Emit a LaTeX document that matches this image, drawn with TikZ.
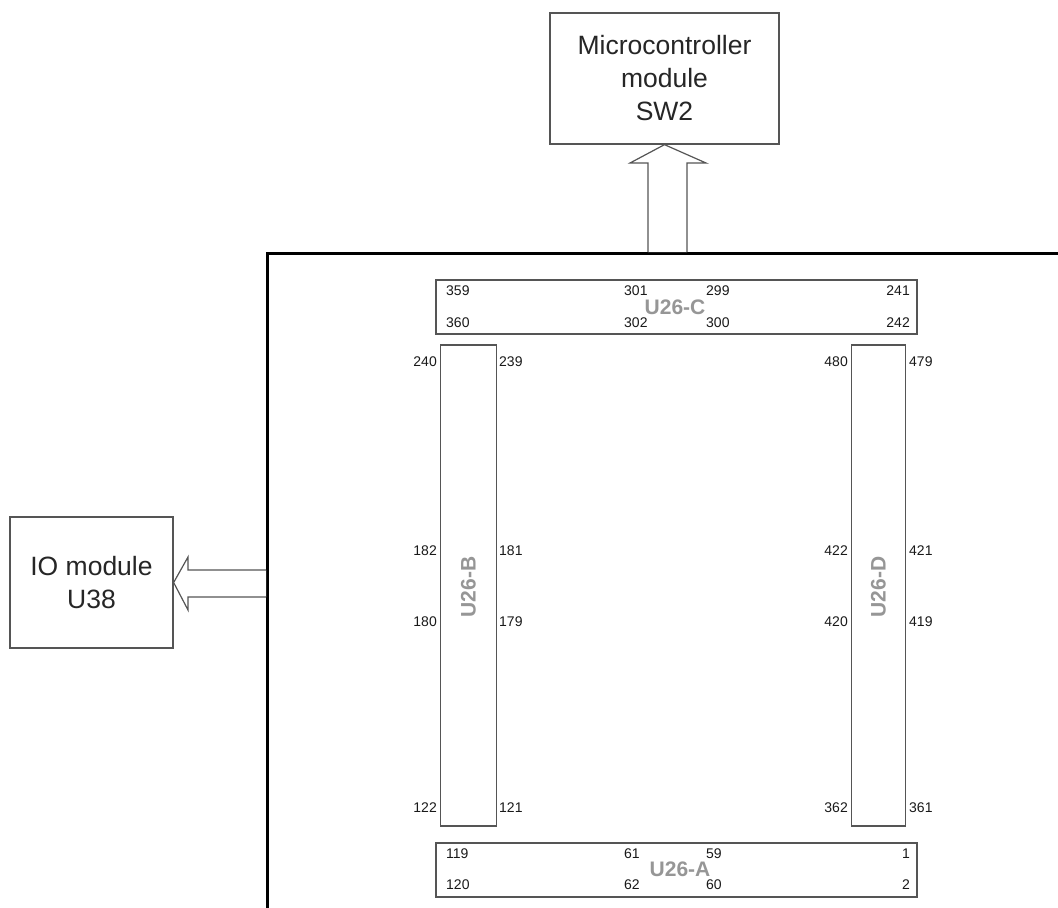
\documentclass[tikz,border=0pt]{standalone}
\usepackage{fontspec}
\setmainfont{Liberation Sans}
\usetikzlibrary{calc}
\definecolor{edge}{RGB}{85,85,85}
\definecolor{lbl}{RGB}{150,150,150}
\tikzset{
  modbox/.style={draw=edge, line width=1.3pt, fill=white, inner sep=0pt},
  modtext/.style={align=center, font=\fontsize{26.5}{33}\selectfont, text=black!85},
  conn/.style={draw=edge, line width=1.2pt, fill=white, inner sep=0pt},
  pin/.style={font=\fontsize{14}{14}\selectfont, inner sep=0pt, text=black!90},
  partlbl/.style={font=\bfseries\fontsize{21}{21}\selectfont, text=lbl, inner sep=0pt},
  bus/.style={draw=edge, line width=1.2pt, fill=white, line join=miter},
  frame/.style={draw=black, line width=3pt}
}
\begin{document}
\begin{tikzpicture}[x=1pt,y=-1pt]
\useasboundingbox (0,0) rectangle (1058,908);
% frame
\coordinate (fb) at (267,908);
\coordinate (fc) at (267,253);
\coordinate (fr) at (1058,253);
\draw[frame] (fb) -- (fc) -- (fr);
% modules
\node[modbox, minimum width=229pt, minimum height=131pt] (mcu) at (664.5,78.5) {};
\node[modtext] (mcut) at (mcu.center) {Microcontroller\\module\\SW2};
\node[modbox, minimum width=163pt, minimum height=131pt] (io) at (91.5,582.5) {};
\node[modtext] (iot) at (io.center) {IO module\\U38};
% up arrow
\coordinate (upbase) at (667.5,252);
\draw[bus] ($(upbase)+(-19.5,0)$) -- ($(upbase)+(-19.5,-89)$) -- ($(upbase)+(-37.5,-89)$)
  -- (mcu.south) -- ($(upbase)+(38.5,-89)$) -- ($(upbase)+(19.5,-89)$) -- ($(upbase)+(19.5,0)$);
% left arrow
\coordinate (lfbase) at (266,583.5);
\draw[bus] ($(lfbase)+(0,-13.5)$) -- ($(lfbase)+(-78,-13.5)$) -- ($(lfbase)+(-78,-26.5)$)
  -- (io.east) -- ($(lfbase)+(-78,26.5)$) -- ($(lfbase)+(-78,13.5)$) -- ($(lfbase)+(0,13.5)$);
% U26-C
\node[conn, minimum width=481pt, minimum height=54pt] (c) at (676.5,307) {};
\node[partlbl] (cl) at (675,307) {U26-C};
\node[pin, anchor=west] (p359) at (446,291) {359};
\node[pin, anchor=west] (p360) at (446,323) {360};
\node[pin, anchor=west] (p301) at (624,291) {301};
\node[pin, anchor=west] (p302) at (624,323) {302};
\node[pin, anchor=west] (p299) at (706,291) {299};
\node[pin, anchor=west] (p300) at (706,323) {300};
\node[pin, anchor=east] (p241) at (910,291) {241};
\node[pin, anchor=east] (p242) at (910,323) {242};
% U26-A
\node[conn, minimum width=481pt, minimum height=54pt] (a) at (676.5,870) {};
\node[partlbl] (al) at (680,869) {U26-A};
\node[pin, anchor=west] (p119) at (446,854) {119};
\node[pin, anchor=west] (p120) at (446,885) {120};
\node[pin, anchor=west] (p61) at (624,854) {61};
\node[pin, anchor=west] (p62) at (624,885) {62};
\node[pin, anchor=west] (p59) at (706,854) {59};
\node[pin, anchor=west] (p60) at (706,885) {60};
\node[pin, anchor=east] (p1) at (910,854) {1};
\node[pin, anchor=east] (p2) at (910,885) {2};
% U26-B
\node[conn, minimum width=56pt, minimum height=481pt] (b) at (468.5,585.5) {};
\node[partlbl, rotate=90] (bl) at (468.5,587) {U26-B};
\node[pin, anchor=east] (p240) at (437,362) {240};
\node[pin, anchor=west] (p239) at (499,362) {239};
\node[pin, anchor=east] (p182) at (437,551) {182};
\node[pin, anchor=west] (p181) at (499,551) {181};
\node[pin, anchor=east] (p180) at (437,622) {180};
\node[pin, anchor=west] (p179) at (499,622) {179};
\node[pin, anchor=east] (p122) at (437,808) {122};
\node[pin, anchor=west] (p121) at (499,808) {121};
% U26-D
\node[conn, minimum width=54pt, minimum height=481pt] (d) at (878.5,585.5) {};
\node[partlbl, rotate=90] (dl) at (878.5,587) {U26-D};
\node[pin, anchor=east] (p480) at (848,362) {480};
\node[pin, anchor=west] (p479) at (909,362) {479};
\node[pin, anchor=east] (p422) at (848,551) {422};
\node[pin, anchor=west] (p421) at (909,551) {421};
\node[pin, anchor=east] (p420) at (848,622) {420};
\node[pin, anchor=west] (p419) at (909,622) {419};
\node[pin, anchor=east] (p362) at (848,808) {362};
\node[pin, anchor=west] (p361) at (909,808) {361};
\end{tikzpicture}
\end{document}
